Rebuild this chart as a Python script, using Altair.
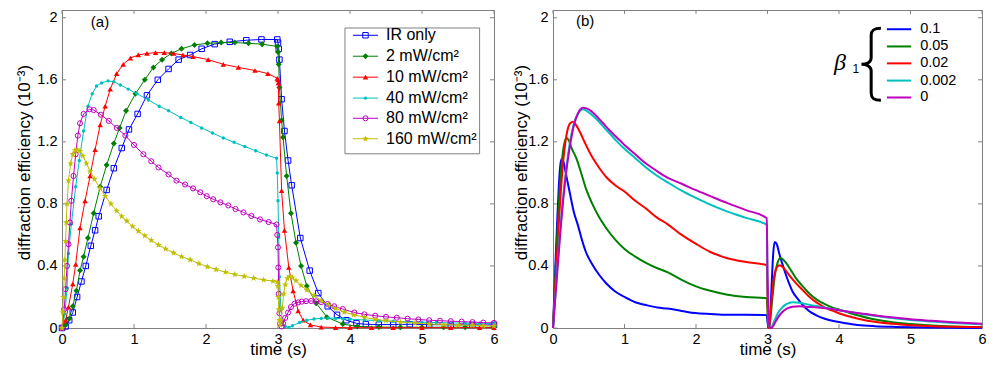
import altair as alt
import pandas as pd

# ---------------- panel (a): measured curves with markers ----------------
A_NAMES = ["IR only", "2 mW/cm²", "10 mW/cm²", "40 mW/cm²", "80 mW/cm²", "160 mW/cm²"]
A_COLORS = ["#0000ff", "#008000", "#ff0000", "#00bfbf", "#bf00bf", "#bfbf00"]

a_ir_t = [0, 0.05, 0.1, 0.15, 0.21, 0.27, 0.33, 0.40, 0.46, 0.51, 0.62, 0.72, 0.83, 0.93, 1.05, 1.18, 1.33, 1.48, 1.62, 1.78,
          1.94, 2.12, 2.33, 2.56, 2.77, 2.99, 3.0, 3.01, 3.02, 3.05, 3.09, 3.14, 3.19, 3.31, 3.44, 3.56, 3.69, 3.82, 3.95, 4.09,
          4.22, 4.4, 4.6, 4.83, 5.1, 5.4, 5.7, 6.0]
a_ir_y = [0, 0.01, 0.05, 0.10, 0.20, 0.30, 0.40, 0.53, 0.63, 0.72, 0.89, 1.03, 1.16, 1.28, 1.38, 1.50, 1.60, 1.67, 1.73, 1.76,
          1.80, 1.83, 1.845, 1.855, 1.86, 1.86, 1.84, 1.80, 1.73, 1.475, 1.27, 1.08, 0.92, 0.58, 0.37, 0.225, 0.14, 0.085, 0.05, 0.03,
          0.024, 0.022, 0.022, 0.024, 0.022, 0.02, 0.02, 0.02]

a_2_t = [0, 0.05, 0.1, 0.15, 0.2, 0.25, 0.3, 0.36, 0.44, 0.53, 0.62, 0.72, 0.80, 0.89, 1.02, 1.15, 1.27, 1.39, 1.52, 1.66,
         1.84, 2.02, 2.21, 2.40, 2.59, 2.78, 2.99, 3.0, 3.01, 3.02, 3.05, 3.07, 3.12, 3.18, 3.25, 3.32, 3.40, 3.53, 3.68, 3.9,
         4.1, 4.4, 4.7, 5.0, 5.3, 5.6, 6.0]
a_2_y = [0, 0.02, 0.06, 0.14, 0.24, 0.37, 0.46, 0.58, 0.74, 0.91, 1.05, 1.19, 1.29, 1.40, 1.51, 1.60, 1.68, 1.73, 1.77, 1.80,
         1.825, 1.835, 1.84, 1.84, 1.835, 1.83, 1.815, 1.78, 1.70, 1.55, 1.34, 1.23, 0.98, 0.74, 0.55, 0.40, 0.27, 0.16, 0.07, 0.025,
         0.01, 0.006, 0.005, 0.005, 0.005, 0.005, 0.005]

a_10_t = [0, 0.05, 0.09, 0.15, 0.19, 0.25, 0.32, 0.39, 0.46, 0.53, 0.6, 0.67, 0.76, 0.85, 0.95, 1.06, 1.18, 1.3, 1.42, 1.55,
          1.68, 1.82, 2.03, 2.24, 2.45, 2.68, 2.86, 2.99, 3.0, 3.005, 3.01, 3.02, 3.05, 3.09, 3.15, 3.21, 3.28, 3.35, 3.45, 3.6,
          3.8, 4.0, 4.3, 4.6, 5.0, 5.4, 5.8, 6.0]
a_10_y = [0, 0.05, 0.135, 0.285, 0.41, 0.645, 0.82, 0.98, 1.15, 1.31, 1.43, 1.54, 1.64, 1.70, 1.74, 1.76, 1.77, 1.775, 1.775, 1.77,
          1.76, 1.75, 1.73, 1.70, 1.68, 1.66, 1.64, 1.61, 1.60, 1.58, 1.45, 1.335, 0.885, 0.63, 0.39, 0.24, 0.11, 0.05, 0.02, 0.006,
          0.003, 0.002, 0.002, 0.002, 0.002, 0.002, 0.002, 0.002]

a_40_t = [0, 0.04, 0.07, 0.09, 0.13, 0.19, 0.24, 0.30, 0.36, 0.42, 0.48, 0.55, 0.64, 0.72, 0.81, 0.92, 1.04, 1.2, 1.35, 1.48,
          1.65, 1.79, 1.94, 2.09, 2.24, 2.39, 2.54, 2.69, 2.84, 2.98, 2.99, 3.0, 3.01, 3.02, 3.04, 3.06, 3.1, 3.15, 3.2, 3.3,
          3.4, 3.5, 3.6, 3.7, 3.8, 3.9, 4.0, 4.2, 4.4, 4.6, 4.8, 5.0, 5.2, 5.4, 5.6, 5.8, 6.0]
a_40_y = [0, 0.09, 0.26, 0.48, 0.67, 0.91, 1.08, 1.27, 1.43, 1.51, 1.56, 1.58, 1.593, 1.587, 1.567, 1.54, 1.51, 1.47, 1.43, 1.40,
          1.357, 1.325, 1.29, 1.257, 1.225, 1.197, 1.17, 1.142, 1.115, 1.095, 1.0, 0.82, 0.585, 0.33, 0.12, 0.04, 0.01, 0.003, 0.015, 0.035,
          0.05, 0.058, 0.062, 0.064, 0.062, 0.06, 0.057, 0.052, 0.047, 0.043, 0.04, 0.037, 0.035, 0.033, 0.031, 0.03, 0.03]

a_80_t = [0, 0.03, 0.05, 0.07, 0.09, 0.11, 0.13, 0.16, 0.19, 0.22, 0.25, 0.30, 0.38, 0.44, 0.54, 0.65, 0.76, 0.88, 1.0, 1.13,
          1.24, 1.34, 1.48, 1.59, 1.71, 1.82, 1.92, 2.01, 2.10, 2.2, 2.31, 2.41, 2.52, 2.63, 2.75, 2.87, 2.98, 2.99, 3.0, 3.005,
          3.01, 3.02, 3.03, 3.05, 3.07, 3.1, 3.14, 3.18, 3.23, 3.28, 3.33, 3.39, 3.46, 3.53, 3.6, 3.69, 3.78, 3.9, 4.06, 4.2,
          4.35, 4.5, 4.65, 4.8, 4.95, 5.1, 5.25, 5.4, 5.55, 5.7, 5.85, 6.0]
a_80_y = [0, 0.12, 0.25, 0.40, 0.54, 0.68, 0.82, 0.98, 1.12, 1.24, 1.32, 1.38, 1.41, 1.405, 1.375, 1.335, 1.29, 1.24, 1.18, 1.12,
          1.075, 1.035, 0.99, 0.95, 0.925, 0.90, 0.875, 0.85, 0.83, 0.81, 0.79, 0.767, 0.745, 0.722, 0.70, 0.683, 0.667, 0.6, 0.52, 0.39,
          0.22, 0.095, 0.03, 0.01, 0.03, 0.065, 0.10, 0.135, 0.157, 0.165, 0.17, 0.173, 0.174, 0.172, 0.167, 0.155, 0.14, 0.122, 0.10, 0.088,
          0.079, 0.072, 0.066, 0.06, 0.055, 0.05, 0.047, 0.044, 0.041, 0.038, 0.035, 0.033]

a_160_t = [0, 0.01, 0.02, 0.03, 0.04, 0.05, 0.06, 0.07, 0.09, 0.12, 0.15, 0.18, 0.21, 0.25, 0.29, 0.34, 0.39, 0.45, 0.53, 0.6,
           0.68, 0.76, 0.83, 0.9, 0.98, 1.06, 1.15, 1.24, 1.34, 1.44, 1.55, 1.66, 1.78, 1.9, 2.02, 2.14, 2.27, 2.4, 2.53, 2.66,
           2.8, 2.93, 2.99, 3.0, 3.005, 3.01, 3.02, 3.03, 3.04, 3.06, 3.08, 3.1, 3.13, 3.16, 3.2, 3.25, 3.32, 3.4, 3.5, 3.6,
           3.7, 3.8, 3.92, 4.05, 4.2, 4.35, 4.5, 4.7, 4.9, 5.1, 5.3, 5.5, 5.7, 5.85, 6.0]
a_160_y = [0, 0.1, 0.2, 0.32, 0.44, 0.56, 0.68, 0.8, 0.95, 1.06, 1.12, 1.145, 1.15, 1.14, 1.11, 1.06, 1.01, 0.96, 0.90, 0.85,
           0.80, 0.755, 0.72, 0.69, 0.655, 0.625, 0.595, 0.565, 0.535, 0.51, 0.485, 0.46, 0.44, 0.415, 0.395, 0.377, 0.36, 0.345, 0.333, 0.322,
           0.31, 0.302, 0.297, 0.27, 0.2, 0.12, 0.05, 0.02, 0.05, 0.13, 0.22, 0.28, 0.32, 0.333, 0.325, 0.305, 0.275, 0.245, 0.21, 0.178,
           0.15, 0.127, 0.103, 0.085, 0.068, 0.056, 0.047, 0.038, 0.031, 0.026, 0.022, 0.019, 0.017, 0.015, 0.013]

A_T = [a_ir_t, a_2_t, a_10_t, a_40_t, a_80_t, a_160_t]
A_Y = [a_ir_y, a_2_y, a_10_y, a_40_y, a_80_y, a_160_y]

# ---------------- panel (b): simulated curves for several beta_1 ----------------
B_NAMES = ["0.1", "0.05", "0.02", "0.002", "0"]
B_COLORS = ["#0000ff", "#008000", "#ff0000", "#00bfbf", "#bf00bf"]

b_01_t = [0, 0.02, 0.04, 0.06, 0.08, 0.1, 0.12, 0.14, 0.17, 0.2, 0.24, 0.29, 0.35, 0.4, 0.46, 0.55, 0.65, 0.75, 0.87, 1.0,
          1.15, 1.3, 1.46, 1.6, 1.8, 1.99, 2.2, 2.44, 2.7, 2.99, 3.0, 3.01, 3.02, 3.04, 3.06, 3.08, 3.1, 3.13, 3.17, 3.21,
          3.26, 3.3, 3.35, 3.42, 3.49, 3.58, 3.67, 3.8, 3.94, 4.1, 4.26, 4.5, 4.8, 5.2, 5.6, 6.0]
b_01_y = [0, 0.24, 0.48, 0.7, 0.9, 1.04, 1.09, 1.08, 1.02, 0.95, 0.86, 0.75, 0.66, 0.575, 0.49, 0.41, 0.34, 0.285, 0.235, 0.2,
          0.166, 0.148, 0.132, 0.125, 0.11, 0.096, 0.09, 0.085, 0.085, 0.083, 0.04, 0.008, 0.0, 0.1, 0.3, 0.48, 0.555, 0.54, 0.47, 0.41,
          0.34, 0.29, 0.235, 0.19, 0.15, 0.11, 0.085, 0.06, 0.043, 0.03, 0.02, 0.012, 0.007, 0.003, 0.001, 0.0]

b_005_t = [0, 0.03, 0.06, 0.09, 0.12, 0.15, 0.19, 0.22, 0.26, 0.33, 0.4, 0.46, 0.55, 0.65, 0.75, 0.87, 1.0, 1.15, 1.3, 1.46,
           1.6, 1.8, 1.99, 2.2, 2.44, 2.7, 2.99, 3.0, 3.01, 3.02, 3.04, 3.07, 3.1, 3.14, 3.18, 3.22, 3.26, 3.33, 3.4, 3.49,
           3.58, 3.7, 3.81, 3.92, 4.03, 4.15, 4.26, 4.45, 4.7, 5.0, 5.3, 5.6, 6.0]
b_005_y = [0, 0.3, 0.6, 0.86, 1.05, 1.17, 1.225, 1.21, 1.16, 1.09, 0.99, 0.9, 0.8, 0.71, 0.64, 0.57, 0.51, 0.46, 0.42, 0.385,
           0.36, 0.31, 0.27, 0.24, 0.215, 0.2, 0.192, 0.1, 0.01, 0.0, 0.06, 0.2, 0.33, 0.42, 0.452, 0.44, 0.42, 0.37, 0.32, 0.27,
           0.224, 0.18, 0.152, 0.13, 0.115, 0.097, 0.082, 0.06, 0.04, 0.026, 0.016, 0.01, 0.006]

b_002_t = [0, 0.04, 0.08, 0.12, 0.16, 0.2, 0.24, 0.28, 0.32, 0.38, 0.45, 0.55, 0.65, 0.75, 0.87, 1.0, 1.15, 1.3, 1.46, 1.6,
           1.8, 1.99, 2.2, 2.44, 2.7, 2.99, 3.0, 3.01, 3.02, 3.04, 3.07, 3.1, 3.13, 3.17, 3.22, 3.28, 3.34, 3.4, 3.49, 3.58,
           3.7, 3.81, 3.92, 4.03, 4.15, 4.3, 4.5, 4.75, 5.0, 5.3, 5.6, 6.0]
b_002_y = [0, 0.33, 0.66, 0.95, 1.15, 1.27, 1.32, 1.33, 1.31, 1.26, 1.19, 1.1, 1.03, 0.97, 0.92, 0.88, 0.82, 0.77, 0.71, 0.67,
           0.6, 0.545, 0.49, 0.45, 0.425, 0.405, 0.2, 0.02, 0.0, 0.08, 0.25, 0.35, 0.39, 0.405, 0.39, 0.355, 0.32, 0.288, 0.245, 0.203,
           0.16, 0.13, 0.11, 0.09, 0.074, 0.057, 0.04, 0.027, 0.018, 0.011, 0.008, 0.005]

b_0002_t = [0, 0.05, 0.1, 0.15, 0.2, 0.25, 0.3, 0.35, 0.42, 0.5, 0.6, 0.7, 0.8, 0.9, 1.0, 1.15, 1.3, 1.46, 1.6, 1.8,
            1.99, 2.2, 2.44, 2.7, 2.99, 3.0, 3.02, 3.04, 3.06, 3.1, 3.15, 3.2, 3.27, 3.35, 3.45, 3.58, 3.7, 3.85, 4.0, 4.2,
            4.4, 4.6, 4.8, 5.0, 5.3, 5.6, 6.0]
b_0002_y = [0, 0.32, 0.63, 0.88, 1.08, 1.23, 1.33, 1.38, 1.41, 1.39, 1.35, 1.30, 1.25, 1.20, 1.155, 1.095, 1.035, 0.98, 0.94, 0.885,
            0.84, 0.795, 0.75, 0.71, 0.665, 0.3, 0.02, 0.0, 0.01, 0.05, 0.1, 0.13, 0.155, 0.166, 0.163, 0.15, 0.14, 0.127, 0.115, 0.1,
            0.085, 0.072, 0.061, 0.052, 0.042, 0.033, 0.024]

b_0_t = [0, 0.05, 0.1, 0.15, 0.2, 0.25, 0.3, 0.35, 0.42, 0.5, 0.6, 0.7, 0.8, 0.9, 1.0, 1.15, 1.3, 1.46, 1.6, 1.8,
         1.99, 2.2, 2.44, 2.7, 2.99, 3.0, 3.02, 3.04, 3.06, 3.1, 3.15, 3.2, 3.27, 3.35, 3.45, 3.58, 3.7, 3.85, 4.0, 4.2,
         4.4, 4.6, 4.8, 5.0, 5.3, 5.6, 6.0]
b_0_y = [0, 0.3, 0.6, 0.86, 1.06, 1.21, 1.32, 1.385, 1.42, 1.41, 1.37, 1.32, 1.27, 1.225, 1.18, 1.12, 1.06, 1.01, 0.97, 0.93,
         0.89, 0.85, 0.805, 0.76, 0.708, 0.35, 0.03, 0.0, 0.0, 0.03, 0.07, 0.1, 0.125, 0.137, 0.14, 0.136, 0.132, 0.125, 0.115, 0.1,
         0.088, 0.076, 0.066, 0.056, 0.046, 0.037, 0.027]

B_T = [b_01_t, b_005_t, b_002_t, b_0002_t, b_0_t]
B_Y = [b_01_y, b_005_y, b_002_y, b_0002_y, b_0_y]

X_TICKS = [0, 1, 2, 3, 4, 5, 6]
Y_TICKS = [0, 0.4, 0.8, 1.2, 1.6, 2.0]

# ---------------- styling ----------------
FONT = "Liberation Sans"
FRAME = "#808080"
W_A, W_B, H = 432, 429, 318
X_DOM, Y_DOM = [0, 6], [0, 2.05]
STAR = ("M0,-1L0.235,-0.324L0.951,-0.309L0.38,0.124L0.588,0.809L0,0.4L-0.588,0.809"
        "L-0.38,0.124L-0.951,-0.309L-0.235,-0.324Z")
BRACE = ("M0.27,-1C0.08,-1 0,-0.95 0,-0.8L0,-0.18C0,-0.06 -0.12,0 -0.27,0"
         "C-0.12,0 0,0.06 0,0.18L0,0.8C0,0.95 0.08,1 0.27,1")
A_SHAPES = ["square", "diamond", "triangle-up", "circle", "circle", STAR]
A_FILLED = [False, True, True, True, False, True]
A_SIZES = [30, 36, 30, 12, 26, 50]


def xenc(field="t"):
    return alt.X(f"{field}:Q", scale=alt.Scale(domain=X_DOM, nice=False, zero=False),
                 axis=alt.Axis(values=X_TICKS, format="d", title="time (s)", grid=False, ticks=False,
                               domain=False, labelFlush=False, labelFontSize=14.5, labelPadding=4,
                               labelFont=FONT, labelColor="black", titleFont=FONT, titleFontSize=17,
                               titleFontWeight="normal", titleColor="black", titleY=26,
                               titleBaseline="alphabetic"))


def yenc(field="y", tx=-33):
    return alt.Y(f"{field}:Q", scale=alt.Scale(domain=Y_DOM, nice=False, zero=False),
                 axis=alt.Axis(values=Y_TICKS, format="~g", title="diffraction efficiency (10⁻³)",
                               grid=False, ticks=False, domain=False, labelFontSize=14.5, labelPadding=5,
                               labelFont=FONT, labelColor="black", titleFont=FONT, titleFontSize=17,
                               titleFontWeight="normal", titleColor="black", titleX=tx, titleY=152,
                               titleAngle=270, titleAlign="center", titleBaseline="alphabetic"))


def tick_layers(tx):
    tl_x, tl_y = 0.025, 0.055  # inward tick length in data units (~4px)
    bottom = pd.DataFrame({"t": X_TICKS, "y": [Y_DOM[0]] * 7, "y2": [Y_DOM[0] + tl_x] * 7})
    top = pd.DataFrame({"t": X_TICKS, "y": [Y_DOM[1]] * 7, "y2": [Y_DOM[1] - tl_x] * 7})
    left = pd.DataFrame({"y": Y_TICKS, "t": [X_DOM[0]] * 6, "t2": [X_DOM[0] + tl_y] * 6})
    right = pd.DataFrame({"y": Y_TICKS, "t": [X_DOM[1]] * 6, "t2": [X_DOM[1] - tl_y] * 6})
    out = []
    for df in (bottom, top):
        out.append(alt.Chart(df).mark_rule(color=FRAME, strokeWidth=1).encode(
            x=xenc(), y=yenc(tx=tx), y2="y2:Q"))
    for df in (left, right):
        out.append(alt.Chart(df).mark_rule(color=FRAME, strokeWidth=1).encode(
            x=xenc(), x2="t2:Q", y=yenc(tx=tx)))
    return out


# ---------------- panel (a) ----------------
TXA = -33
layers_a = tick_layers(TXA)
for k, name in enumerate(A_NAMES):
    df = pd.DataFrame({"t": A_T[k], "y": A_Y[k], "i": range(len(A_T[k]))})
    layers_a.append(alt.Chart(df).mark_line(color=A_COLORS[k], strokeWidth=1).encode(
        x=xenc(), y=yenc(tx=TXA), order="i:Q"))
    layers_a.append(alt.Chart(df).mark_point(shape=A_SHAPES[k], filled=A_FILLED[k], size=A_SIZES[k],
                                             color=A_COLORS[k], strokeWidth=1, opacity=1).encode(
        x=xenc(), y=yenc(tx=TXA)))

# legend of panel (a), placed in data coordinates
leg_a_rows = [1.887, 1.752, 1.617, 1.482, 1.352, 1.220]
box_a = pd.DataFrame({"t": [3.93], "t2": [5.80], "y": [1.123], "y2": [1.934]})
layers_a.append(alt.Chart(box_a).mark_rect(fill="white", stroke=FRAME, strokeWidth=1).encode(
    x=xenc(), x2="t2:Q", y=yenc(tx=TXA), y2="y2:Q"))
for k, name in enumerate(A_NAMES):
    seg = pd.DataFrame({"t": [4.04], "t2": [4.39], "y": [leg_a_rows[k]]})
    layers_a.append(alt.Chart(seg).mark_rule(color=A_COLORS[k], strokeWidth=1).encode(
        x=xenc(), x2="t2:Q", y=yenc(tx=TXA)))
    mk = pd.DataFrame({"t": [4.215], "y": [leg_a_rows[k]]})
    layers_a.append(alt.Chart(mk).mark_point(shape=A_SHAPES[k], filled=A_FILLED[k], size=A_SIZES[k],
                                             color=A_COLORS[k], strokeWidth=1, opacity=1).encode(
        x=xenc(), y=yenc(tx=TXA)))
lab_a = pd.DataFrame({"t": [4.50] * 6, "y": leg_a_rows, "label": A_NAMES})
layers_a.append(alt.Chart(lab_a).mark_text(align="left", baseline="middle", font=FONT, fontSize=16,
                                           color="black").encode(x=xenc(), y=yenc(tx=TXA), text="label:N"))
tag_a = pd.DataFrame({"t": [0.40], "y": [1.94], "label": ["(a)"]})
layers_a.append(alt.Chart(tag_a).mark_text(align="left", baseline="alphabetic", font=FONT, fontSize=15,
                                           color="black").encode(x=xenc(), y=yenc(tx=TXA), text="label:N"))

panel_a = alt.layer(*layers_a).properties(width=W_A, height=H)

# ---------------- panel (b) ----------------
TXB = -27
layers_b = tick_layers(TXB)
for k, name in enumerate(B_NAMES):
    df = pd.DataFrame({"t": B_T[k], "y": B_Y[k], "i": range(len(B_T[k]))})
    layers_b.append(alt.Chart(df).mark_line(color=B_COLORS[k], strokeWidth=2, interpolate="monotone").encode(
        x=xenc(), y=yenc(tx=TXB), order="i:Q"))

leg_b_rows = [1.926, 1.815, 1.706, 1.595, 1.486]
for k, name in enumerate(B_NAMES):
    seg = pd.DataFrame({"t": [4.67], "t2": [5.01], "y": [leg_b_rows[k]]})
    layers_b.append(alt.Chart(seg).mark_rule(color=B_COLORS[k], strokeWidth=2).encode(
        x=xenc(), x2="t2:Q", y=yenc(tx=TXB)))
lab_b = pd.DataFrame({"t": [5.135] * 5, "y": leg_b_rows, "label": B_NAMES})
layers_b.append(alt.Chart(lab_b).mark_text(align="left", baseline="middle", font=FONT, fontSize=14.5,
                                           color="black").encode(x=xenc(), y=yenc(tx=TXB), text="label:N"))
beta = pd.DataFrame({"t": [3.93], "y": [1.665], "label": ["β"]})
layers_b.append(alt.Chart(beta).mark_text(align="left", baseline="alphabetic", font="Liberation Serif",
                                          fontStyle="italic", fontSize=24, color="black").encode(
    x=xenc(), y=yenc(tx=TXB), text="label:N"))
sub = pd.DataFrame({"t": [4.19], "y": [1.645], "label": ["1"]})
layers_b.append(alt.Chart(sub).mark_text(align="left", baseline="alphabetic", font=FONT, fontSize=12,
                                         color="black").encode(x=xenc(), y=yenc(tx=TXB), text="label:N"))
brace = pd.DataFrame({"t": [4.45], "y": [1.70]})
layers_b.append(alt.Chart(brace).mark_point(shape=BRACE, filled=False, size=5184, color="black",
                                            strokeWidth=3, opacity=1).encode(x=xenc(), y=yenc(tx=TXB)))
tag_b = pd.DataFrame({"t": [0.32], "y": [1.945], "label": ["(b)"]})
layers_b.append(alt.Chart(tag_b).mark_text(align="left", baseline="alphabetic", font=FONT, fontSize=15,
                                           color="black").encode(x=xenc(), y=yenc(tx=TXB), text="label:N"))

panel_b = alt.layer(*layers_b).properties(width=W_B, height=H)

chart = alt.hconcat(panel_a, panel_b, spacing=11).properties(
    padding={"left": 6, "top": 1, "right": 0, "bottom": 0},
    background="white",
).configure_view(stroke=FRAME, strokeWidth=1)

chart.save("out.html", embed_options={"renderer": "svg", "actions": False})
